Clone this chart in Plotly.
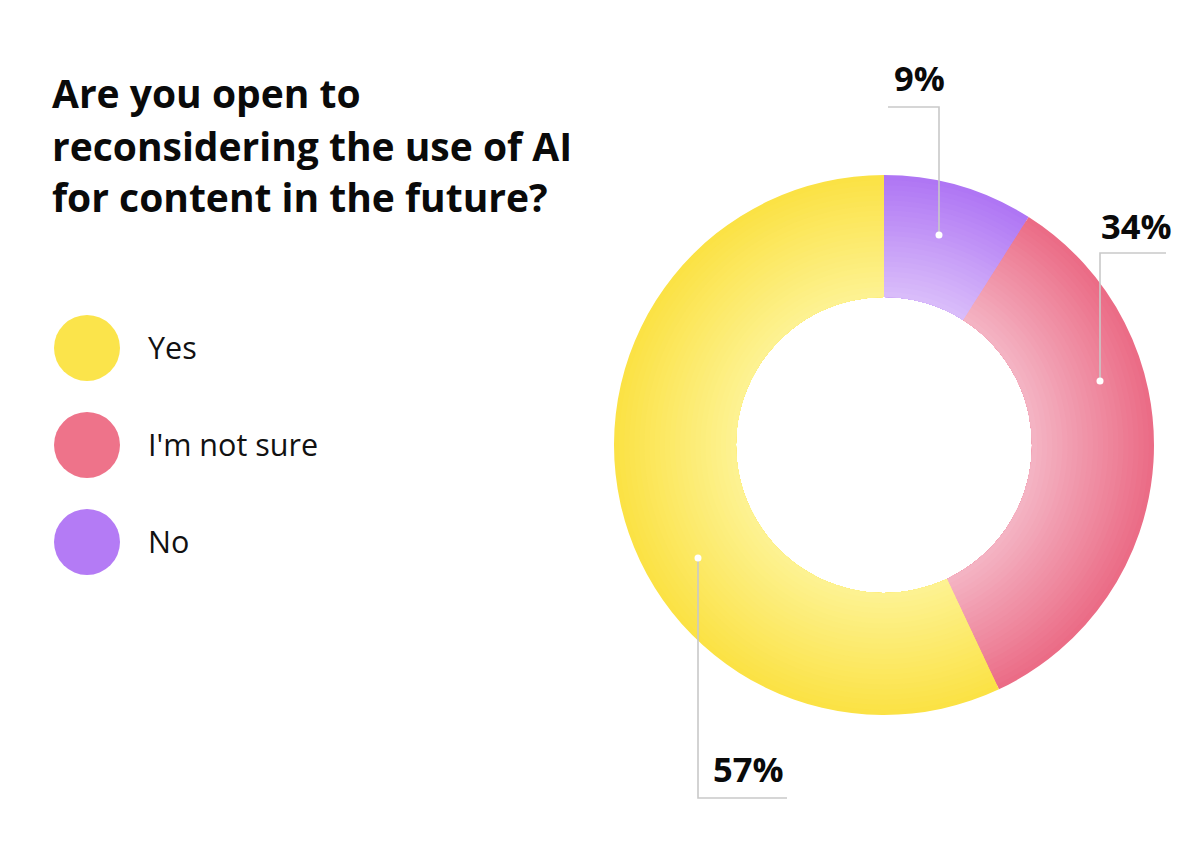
import plotly.graph_objects as go

# ---------------- data ----------------
categories = ["No", "I'm not sure", "Yes"]          # drawn clockwise from 12 o'clock
values = [9, 34, 57]
legend_order = ["Yes", "I'm not sure", "No"]
title_lines = ["Are you open to", "reconsidering the use of AI", "for content in the future?"]

# colours (outer edge -> inner edge of the ring) and legend swatches
outer_colors = {"No": "#AF76F4", "I'm not sure": "#EB6C86", "Yes": "#FBE245"}
inner_colors = {"No": "#D9BCFA", "I'm not sure": "#F4B3C3", "Yes": "#FDF291"}
legend_colors = {"Yes": "#FBE44B", "I'm not sure": "#EE738A", "No": "#B47BF5"}

# ---------------- layout geometry (page pixels) ----------------
PAGE_OFF = 8                      # default body margin of the html page
W, H = 1200 - 2 * PAGE_OFF, 846 - 2 * PAGE_OFF
CX, CY = 884, 445                 # donut centre (page px)
R_OUT, R_IN = 270, 148
N_RINGS = 24
FONT = "Open Sans"

# callout geometry per category: dot, elbow, end of line, label position/anchor
callouts = {
    "No":           dict(dot=(939, 235), elbow=(939, 107), end=(888, 107), label=(919, 77), xanchor="center"),
    "I'm not sure": dict(dot=(1100, 381), elbow=(1100, 253), end=(1166, 253), label=(1099, 225), xanchor="left"),
    "Yes":          dict(dot=(698, 558), elbow=(698, 798), end=(787, 798), label=(711, 768), xanchor="left"),
}


def mix(c1, c2, t):
    a = [int(c1[i:i + 2], 16) for i in (1, 3, 5)]
    b = [int(c2[i:i + 2], 16) for i in (1, 3, 5)]
    return "rgb(%d,%d,%d)" % tuple(round(a[k] + (b[k] - a[k]) * t) for k in range(3))


def px_x(x):
    return (x - PAGE_OFF) / W


def px_y(y):
    return 1 - (y - PAGE_OFF) / H


fig = go.Figure()

# concentric pies: radial gradient (darker outside, lighter towards the hole)
for k in range(N_RINGS):
    t = k / (N_RINGS - 1)
    r = R_OUT - (R_OUT - R_IN) * k / N_RINGS
    cols = [mix(outer_colors[c], inner_colors[c], t) for c in categories]
    fig.add_trace(go.Pie(
        labels=categories, values=values, sort=False, direction="clockwise", rotation=0,
        hole=R_IN / r,
        marker=dict(colors=cols, line=dict(width=0)),
        textinfo="none", hoverinfo="skip", showlegend=False,
        domain=dict(x=[px_x(CX - r), px_x(CX + r)], y=[px_y(CY + r), px_y(CY - r)]),
    ))

# invisible axes in page-pixel units for shapes / annotations
fig.update_xaxes(range=[PAGE_OFF, PAGE_OFF + W], visible=False, fixedrange=True)
fig.update_yaxes(range=[PAGE_OFF + H, PAGE_OFF], visible=False, fixedrange=True)

shapes = []
annotations = []

# title
title_baselines = [108, 161, 212]
for line, b in zip(title_lines, title_baselines):
    annotations.append(dict(x=50, y=b - 16, xref="x", yref="y", text=line, showarrow=False,
                            xanchor="left", yanchor="middle",
                            font=dict(family=FONT, size=39, color="#0a0a0a", weight=700)))

# legend
legend_y = [348, 445, 542]
for name, ly in zip(legend_order, legend_y):
    shapes.append(dict(type="circle", xref="x", yref="y", x0=54, x1=120, y0=ly - 33, y1=ly + 33,
                       fillcolor=legend_colors[name], line=dict(width=0)))
    annotations.append(dict(x=146, y=ly - 1, xref="x", yref="y", text=name, showarrow=False,
                            xanchor="left", yanchor="middle",
                            font=dict(family=FONT, size=30.5, color="#111111")))

# callouts
for name, v in zip(categories, values):
    c = callouts[name]
    (dx, dy), (ex, ey), (fx, fy) = c["dot"], c["elbow"], c["end"]
    shapes.append(dict(type="path", xref="x", yref="y",
                       path=f"M {dx},{dy} L {ex},{ey} L {fx},{fy}",
                       line=dict(color="#c9c9c9", width=1.6)))
    shapes.append(dict(type="circle", xref="x", yref="y", x0=dx - 3.5, x1=dx + 3.5, y0=dy - 3.5, y1=dy + 3.5,
                       fillcolor="white", line=dict(width=0)))
    lx, ly = c["label"]
    annotations.append(dict(x=lx, y=ly, xref="x", yref="y", text=f"{v}%", showarrow=False,
                            xanchor=c["xanchor"], yanchor="middle",
                            font=dict(family=FONT, size=34.5, color="#0a0a0a", weight=700)))

fig.update_layout(
    width=W, height=H, margin=dict(l=0, r=0, t=0, b=0),
    paper_bgcolor="white", plot_bgcolor="white",
    shapes=shapes, annotations=annotations, showlegend=False,
)

fig.write_html("out.html", config={"displayModeBar": False})
